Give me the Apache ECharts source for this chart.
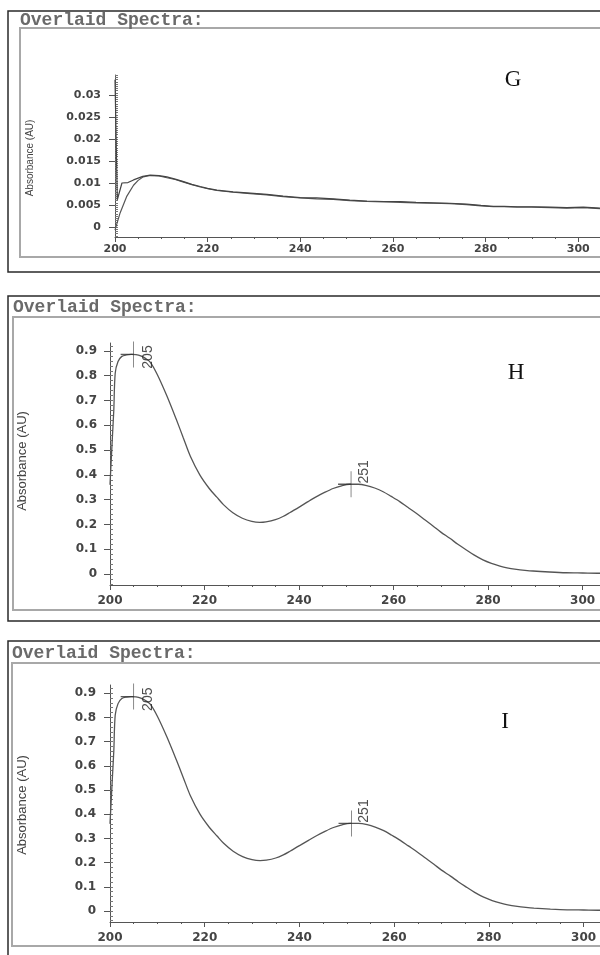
<!DOCTYPE html>
<html><head><meta charset="utf-8">
<script src="https://cdn.jsdelivr.net/npm/echarts@6/dist/echarts.min.js"></script>
<style>html,body{margin:0;padding:0;background:#fff}#c{width:600px;height:955px}</style>
</head><body><div id="c"></div>
<script>
// ---------- data ----------
const panelTitle = 'Overlaid Spectra:';
const yAxisName = 'Absorbance (AU)';
const panelLetters = ['G', 'H', 'I'];
const xTickLabels = [200, 220, 240, 260, 280, 300];
const yTickLabelsG = [0, 0.005, 0.01, 0.015, 0.02, 0.025, 0.03];
const yTickLabelsAU = [0, 0.1, 0.2, 0.3, 0.4, 0.5, 0.6, 0.7, 0.8, 0.9];

// Panel G: two overlaid spectra
const gWavelengthA = [200, 200.5, 201.5, 202.8, 204, 206, 207.6, 209.5, 211.2, 213, 214.8, 216.6, 218.4, 220, 222, 225.5, 229.2, 232.8, 236.3, 240, 243.5, 247.1, 250.7, 254.4, 258, 261.6, 265, 268.7, 272.3, 275.9, 279, 281.7, 284, 286.8, 290, 294, 297.5, 301.1, 304.7];
const gAbsorbanceA = [0.0335, 0.0062, 0.0100, 0.0101, 0.0107, 0.0115, 0.0118, 0.0117, 0.0114, 0.0109, 0.0103, 0.0097, 0.0092, 0.0088, 0.0084, 0.0080, 0.0077, 0.0074, 0.0070, 0.0067, 0.0066, 0.0064, 0.0061, 0.0059, 0.0058, 0.0058, 0.0056, 0.0055, 0.0054, 0.0052, 0.0049, 0.0047, 0.0047, 0.0046, 0.0046, 0.0045, 0.0044, 0.0045, 0.0043];
const gWavelengthB = [200, 201.1, 202.5, 204, 205, 206.1, 207.6, 209.5, 211.2, 213, 214.8, 216.6, 218.4, 220, 222, 225.5, 229.2, 232.8, 236.3, 240, 243.5, 247.1, 250.7, 254.4, 258, 261.6, 265, 268.7, 272.3, 275.9, 279, 281.7, 284, 286.8, 290, 294, 297.5, 301.1, 304.7];
const gAbsorbanceB = [-0.0007, 0.0032, 0.0069, 0.0095, 0.0106, 0.0114, 0.0117, 0.0116, 0.0112, 0.0108, 0.0102, 0.0096, 0.0091, 0.0087, 0.0083, 0.0079, 0.0076, 0.0073, 0.0069, 0.0066, 0.0064, 0.0063, 0.0060, 0.0058, 0.0057, 0.0056, 0.0055, 0.0054, 0.0053, 0.0051, 0.0048, 0.0046, 0.0046, 0.0045, 0.0045, 0.0044, 0.0043, 0.0044, 0.0042];

// Panel H
const hWavelength = [200, 200.5, 200.8, 201.1, 201.7, 202.5, 203.5, 204.5, 205.5, 206.5, 207.5, 208.5, 210, 212, 214, 215.5, 217, 219, 221, 222.6, 224, 226, 228, 230, 231.7, 233, 235, 236.6, 238, 240.2, 242, 243.7, 245.5, 247.2, 249, 250.7, 252.5, 254.3, 256, 257.8, 259.5, 261.3, 263, 264.8, 266.6, 268.4, 270, 271.9, 273.6, 275.4, 277, 278.9, 280.7, 282.5, 284, 286, 287.8, 289.5, 293, 296.5, 300, 303.6, 306];
const hAbsorbance = [0.36, 0.55, 0.66, 0.81, 0.857, 0.878, 0.884, 0.886, 0.885, 0.880, 0.870, 0.855, 0.805, 0.72, 0.625, 0.55, 0.475, 0.40, 0.345, 0.31, 0.28, 0.247, 0.225, 0.212, 0.208, 0.21, 0.219, 0.232, 0.247, 0.272, 0.293, 0.312, 0.33, 0.345, 0.356, 0.362, 0.362, 0.357, 0.347, 0.332, 0.313, 0.292, 0.269, 0.245, 0.219, 0.193, 0.169, 0.144, 0.12, 0.097, 0.077, 0.057, 0.043, 0.032, 0.025, 0.019, 0.015, 0.012, 0.008, 0.005, 0.004, 0.003, 0.003];
const hPeakWavelength = [205, 251];
const hPeakAbsorbance = [0.886, 0.362];

// Panel I
const iWavelength = [200, 200.5, 200.8, 201.1, 201.7, 202.5, 203.5, 204.5, 205.5, 206.5, 207.5, 208.5, 210, 212, 214, 215.5, 217, 219, 221, 222.6, 224, 226, 228, 230, 231.7, 233, 235, 236.6, 238, 240.2, 242, 243.7, 245.5, 247.2, 249, 250.7, 252.5, 254.3, 256, 257.8, 259.5, 261.3, 263, 264.8, 266.6, 268.4, 270, 271.9, 273.6, 275.4, 277, 278.9, 280.7, 282.5, 284, 286, 287.8, 289.5, 293, 296.5, 300, 303.6, 306];
const iAbsorbance = [0.36, 0.55, 0.66, 0.81, 0.857, 0.878, 0.884, 0.886, 0.885, 0.880, 0.870, 0.855, 0.805, 0.72, 0.625, 0.55, 0.475, 0.40, 0.345, 0.31, 0.28, 0.247, 0.225, 0.212, 0.208, 0.21, 0.219, 0.232, 0.247, 0.272, 0.293, 0.312, 0.33, 0.345, 0.356, 0.362, 0.362, 0.357, 0.347, 0.332, 0.313, 0.292, 0.269, 0.245, 0.219, 0.193, 0.169, 0.144, 0.12, 0.097, 0.077, 0.057, 0.043, 0.032, 0.025, 0.019, 0.015, 0.012, 0.008, 0.005, 0.004, 0.003, 0.003];
const iPeakWavelength = [205, 251];
const iPeakAbsorbance = [0.886, 0.362];

// ---------- layout ----------
const panels = [
  { grid: { left: 115, top: 75, width: 491, height: 162 }, xMin: 200, xMax: 306, yMin: -0.00227, yMax: 0.03455,
    yTicks: yTickLabelsG, minorStep: 0.0005, font: 11, xLabelMargin: 7, yLabelMargin: 14,
    box: { top: 11, bottom: 272 }, inner: { left: 20, top: 28, bottom: 257 }, titleY: 20,
    letter: [513, 80], yName: [30, 158], yNameSize: 10 },
  { grid: { left: 110, top: 343, width: 501, height: 242 }, xMin: 200, xMax: 306, yMin: -0.0444, yMax: 0.932,
    yTicks: yTickLabelsAU, minorStep: 0.02, font: 12, xLabelMargin: 10, yLabelMargin: 13,
    box: { top: 296, bottom: 621 }, inner: { left: 13, top: 317, bottom: 610 }, titleY: 307,
    letter: [516, 373], yName: [22, 461], yNameSize: 13 },
  { grid: { left: 110, top: 685, width: 502, height: 237 }, xMin: 200, xMax: 306, yMin: -0.0455, yMax: 0.934,
    yTicks: yTickLabelsAU, minorStep: 0.02, font: 12, xLabelMargin: 10, yLabelMargin: 14,
    box: { top: 641, bottom: 975 }, inner: { left: 12, top: 663, bottom: 946 }, titleY: 653,
    letter: [505, 722], yName: [22, 805], yNameSize: 13 }
];

function stepValues(min, max, step) {
  const out = [];
  for (let i = Math.ceil(min / step - 1e-9); i * step <= max + 1e-12; i++) out.push(+(i * step).toFixed(6));
  return out;
}

const axisColor = '#555';
const labelColor = '#444';
const grids = [], xAxes = [], yAxes = [], graphics = [];

panels.forEach((p, k) => {
  grids.push(Object.assign({ outerBoundsMode: 'none', containLabel: false }, p.grid));
  const xMinor = stepValues(p.xMin, p.xMax, 5);
  xAxes.push({
    type: 'value', gridIndex: k, min: p.xMin, max: p.xMax, position: 'bottom',
    axisLine: { show: true, onZero: false, lineStyle: { color: axisColor, width: 1 } },
    axisTick: { show: true, customValues: xTickLabels, length: 5, lineStyle: { color: axisColor } },
    axisLabel: { customValues: xTickLabels, margin: p.xLabelMargin, color: labelColor,
      fontFamily: 'DejaVu Sans', fontWeight: 'bold', fontSize: p.font },
    splitLine: { show: false }
  });
  xAxes.push({
    type: 'value', gridIndex: k, min: p.xMin, max: p.xMax, position: 'bottom',
    axisLine: { show: false, onZero: false },
    axisTick: { show: true, customValues: xMinor, length: 2, lineStyle: { color: axisColor } },
    axisLabel: { show: false }, splitLine: { show: false }
  });
  yAxes.push({
    type: 'value', gridIndex: k, min: p.yMin, max: p.yMax, position: 'left',
    axisLine: { show: true, onZero: false, lineStyle: { color: axisColor, width: 1 } },
    axisTick: { show: true, customValues: p.yTicks, length: 6, lineStyle: { color: axisColor } },
    axisLabel: { customValues: p.yTicks, margin: p.yLabelMargin, color: labelColor,
      fontFamily: 'DejaVu Sans', fontWeight: 'bold', fontSize: p.font,
      formatter: v => String(+(+v).toFixed(4)) },
    splitLine: { show: false }
  });
  yAxes.push({
    type: 'value', gridIndex: k, min: p.yMin, max: p.yMax, position: 'left',
    axisLine: { show: false, onZero: false },
    axisTick: { show: true, inside: true, customValues: stepValues(p.yMin, p.yMax, p.minorStep), length: 3, lineStyle: { color: '#777' } },
    axisLabel: { show: false }, splitLine: { show: false }
  });

  // frame boxes
  graphics.push({ type: 'rect', shape: { x: 8, y: p.box.top, width: 620, height: p.box.bottom - p.box.top },
    style: { fill: 'none', stroke: '#2a2a2a', lineWidth: 1.5 }, z: 1 });
  graphics.push({ type: 'rect', shape: { x: p.inner.left, y: p.inner.top, width: 620, height: p.inner.bottom - p.inner.top },
    style: { fill: 'none', stroke: '#a8a8a8', lineWidth: 2 }, z: 1 });
  graphics.push({ type: 'text', x: p.inner.left, y: p.titleY, z: 2,
    style: { text: panelTitle, fontFamily: 'Liberation Mono', fontWeight: 'bold', fontSize: 18, fill: '#6a6a6a',
      textAlign: 'left', textVerticalAlign: 'middle', verticalAlign: 'middle' } });
  graphics.push({ type: 'text', x: p.letter[0], y: p.letter[1], z: 2,
    style: { text: panelLetters[k], fontFamily: 'Liberation Serif', fontSize: 23, fill: '#111',
      textAlign: 'center', align: 'center', verticalAlign: 'middle', textVerticalAlign: 'middle' } });
  graphics.push({ type: 'text', x: p.yName[0], y: p.yName[1], rotation: Math.PI / 2, z: 2,
    style: { text: yAxisName, fontFamily: 'Liberation Sans', fontSize: p.yNameSize, fill: '#444',
      textAlign: 'center', align: 'center', verticalAlign: 'middle', textVerticalAlign: 'middle' } });
});

const zip = (xs, ys) => xs.map((x, i) => [x, ys[i]]);
const lineBase = { type: 'line', showSymbol: false, symbol: 'none', silent: true, animation: false };

const peakSeries = (k, wl, ab) => ({
  type: 'scatter', xAxisIndex: 2 * k, yAxisIndex: 2 * k, silent: true, animation: false,
  symbol: 'path://M0,13 L13,13 M13,0 L13,26', symbolSize: [13, 26], symbolOffset: [-6.5, 0],
  itemStyle: { color: 'transparent', borderColor: '#333', borderWidth: 1 },
  data: wl.map((w, i) => ({
    value: [w, ab[i]],
    label: { position: i === 0 ? [28, 28] : [26, 13] }
  })),
  label: { show: true, rotate: 90, align: 'left', verticalAlign: 'middle',
    formatter: p => String(p.value[0]), fontFamily: 'Liberation Sans', fontSize: 14, color: '#222' },
  z: 5
});

const series = [
  Object.assign({}, lineBase, { xAxisIndex: 0, yAxisIndex: 0, data: zip(gWavelengthB, gAbsorbanceB),
    lineStyle: { color: '#555', width: 1.2 } }),
  Object.assign({}, lineBase, { xAxisIndex: 0, yAxisIndex: 0, data: zip(gWavelengthA, gAbsorbanceA),
    lineStyle: { color: '#444', width: 1.2 } }),
  Object.assign({}, lineBase, { xAxisIndex: 2, yAxisIndex: 2, data: zip(hWavelength, hAbsorbance), smooth: 0.3,
    lineStyle: { color: '#555', width: 1.3 } }),
  peakSeries(1, hPeakWavelength, hPeakAbsorbance),
  Object.assign({}, lineBase, { xAxisIndex: 4, yAxisIndex: 4, data: zip(iWavelength, iAbsorbance), smooth: 0.3,
    lineStyle: { color: '#555', width: 1.3 } }),
  peakSeries(2, iPeakWavelength, iPeakAbsorbance)
];

const chart = echarts.init(document.getElementById('c'), null, { renderer: 'canvas' });
chart.setOption({
  animation: false,
  backgroundColor: '#ffffff',
  grid: grids, xAxis: xAxes, yAxis: yAxes, series: series,
  graphic: { elements: graphics }
});
</script></body></html>
